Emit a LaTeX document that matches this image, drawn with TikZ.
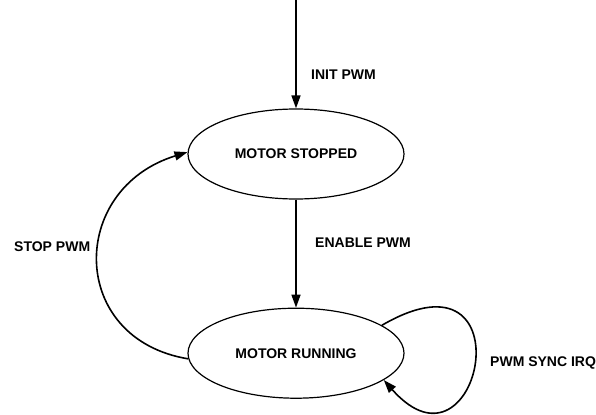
\documentclass[tikz,border=0pt]{standalone}
\usepackage{fontspec}
\setmainfont{Liberation Sans}
\usetikzlibrary{arrows.meta,positioning,shapes.geometric}

\begin{document}
\begin{tikzpicture}[
  x=1bp, y=1bp,
  state/.style={
    draw,
    ellipse,
    line width=1.2bp,
    minimum width=216bp,
    minimum height=90bp,
    inner sep=0pt,
    font=\fontsize{14bp}{16bp}\selectfont\bfseries
  },
  event/.style={font=\fontsize{14bp}{16bp}\selectfont\bfseries,inner sep=0pt},
  arrow/.style={-{Triangle[length=13bp,width=9bp]},line width=1.6bp}
]
  \useasboundingbox (0,0) rectangle (596,414);
  \coordinate (entry) at (296,414);
  \node[state] (stopped) at (296,260) {MOTOR STOPPED};
  \node[state,below=108bp of stopped] (running) {MOTOR RUNNING};
  \node[event,anchor=west] (init) at (311,339) {INIT PWM};
  \node[event,anchor=west] (enable) at (315,171) {ENABLE PWM};
  \node[event,anchor=west] (stop) at (14,167) {STOP PWM};
  \node[event,anchor=west] (sync) at (490,51) {PWM SYNC IRQ};
  \draw[arrow] (entry) -- (stopped);
  \draw[arrow] (stopped) -- (running);
  \draw[arrow] (running.183) .. controls (68,75) and (68,225) .. (stopped.179);
  \draw[arrow] (running.18) .. controls (530,175) and (480,-75) .. (running.-17);
\end{tikzpicture}
\end{document}
